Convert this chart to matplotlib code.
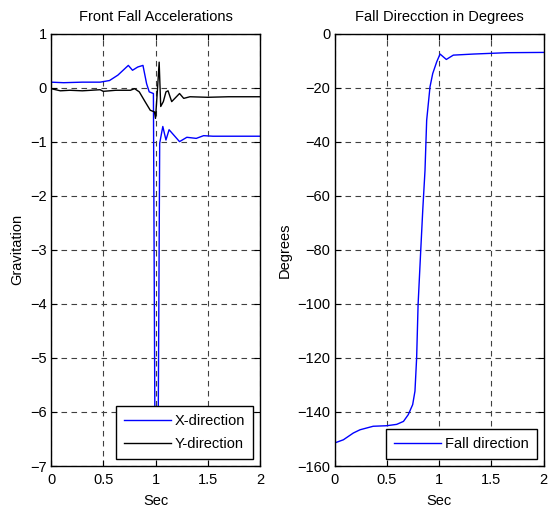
import matplotlib
matplotlib.use('Agg')
import matplotlib.pyplot as plt

plt.rcParams['font.family'] = ['Liberation Sans', 'DejaVu Sans']
plt.rcParams['font.size'] = 10.5

# left panel: accelerations (g) vs time (s)
xTime = [0, 0.12, 0.30, 0.47, 0.56, 0.64, 0.69, 0.74, 0.78, 0.83, 0.88, 0.915, 0.94,
         0.98, 0.995, 1.025, 1.04, 1.07, 1.10, 1.13, 1.18, 1.23, 1.30, 1.39, 1.46, 1.55, 2.0]
xAccel = [0.10, 0.09, 0.10, 0.10, 0.13, 0.23, 0.32, 0.41, 0.32, 0.38, 0.41, 0.07, -0.08,
          -0.11, -6.6, -6.6, -1.03, -0.72, -0.97, -0.78, -0.89, -1.0, -0.92, -0.94, -0.89, -0.9, -0.9]

yTime = [0, 0.09, 0.18, 0.30, 0.47, 0.50, 0.62, 0.76, 0.80, 0.845, 0.90, 0.95, 0.99, 1.0,
         1.02, 1.035, 1.05, 1.075, 1.10, 1.12, 1.155, 1.20, 1.23, 1.27, 1.33, 1.5, 1.7, 2.0]
yAccel = [-0.02, -0.06, -0.05, -0.06, -0.04, -0.07, -0.05, -0.05, -0.02, -0.08, -0.26, -0.42,
          -0.45, -0.57, 0.0, 0.47, -0.35, -0.26, -0.08, -0.06, -0.26, -0.17, -0.11, -0.2,
          -0.17, -0.18, -0.17, -0.17]

# right panel: fall direction (degrees) vs time (s)
dirTime = [0, 0.085, 0.18, 0.244, 0.37, 0.50, 0.595, 0.66, 0.706, 0.748, 0.77, 0.786, 0.80,
           0.825, 0.845, 0.866, 0.882, 0.914, 0.94, 0.978, 1.01, 1.07, 1.137, 1.33, 1.65, 2.0]
dirDeg = [-151.5, -150.3, -147.8, -146.6, -145.3, -145.1, -144.6, -143.5, -141, -137.3,
          -132.3, -120, -100.2, -80.4, -65, -50.7, -32.1, -19.7, -14.8, -10.5, -7.6, -9.6,
          -8.0, -7.6, -7.1, -7.0]

fig = plt.figure(figsize=(5.48, 5.09), dpi=100)
ax1 = fig.add_axes([51 / 548, 1 - 466 / 509, 209 / 548, 432.5 / 509])
ax2 = fig.add_axes([334.5 / 548, 1 - 466 / 509, 209 / 548, 432.5 / 509])

ax1.plot(xTime, xAccel, color='#0000ff', lw=1.0, label='X-direction')
ax1.plot(yTime, yAccel, color='black', lw=1.0, label='Y-direction')
ax1.set_xlim(0, 2)
ax1.set_ylim(-7, 1)
ax1.set_yticks(range(-7, 2))
ax1.set_xticks([0, 0.5, 1, 1.5, 2])
ax1.set_xticklabels(['0', '0.5', '1', '1.5', '2'])
ax1.set_title('Front Fall Accelerations', fontsize=10.5, pad=9)
ax1.set_xlabel('Sec')
ax1.set_ylabel('Gravitation')

ax2.plot(dirTime, dirDeg, color='#0000ff', lw=1.0, label='Fall direction')
ax2.set_xlim(0, 2)
ax2.set_ylim(-160, 0)
ax2.set_yticks(range(-160, 1, 20))
ax2.set_xticks([0, 0.5, 1, 1.5, 2])
ax2.set_xticklabels(['0', '0.5', '1', '1.5', '2'])
ax2.set_title('Fall Direcction in Degrees', fontsize=10.5, pad=9)
ax2.set_xlabel('Sec')
ax2.set_ylabel('Degrees')

for ax in (ax1, ax2):
    ax.grid(True, color='#404040', linestyle=(0, (5, 4)), linewidth=0.8)
    ax.tick_params(direction='in', length=4, width=0.8, top=True, right=True,
                   labeltop=False, labelright=False)
    ax.tick_params(axis='x', pad=5)
    ax.tick_params(axis='y', pad=3)
    ax.xaxis.labelpad = 5
    ax.yaxis.labelpad = 4
    for s in ax.spines.values():
        s.set_linewidth(1.0)
    leg = ax.legend(loc='lower right', fancybox=False, framealpha=1, edgecolor='black',
                    handlelength=3.2, borderaxespad=0.45, fontsize=10.5,
                    labelspacing=0.65, borderpad=0.55, handletextpad=0.3)
    leg.get_frame().set_linewidth(1.0)

fig.savefig('out.png', dpi=100)
